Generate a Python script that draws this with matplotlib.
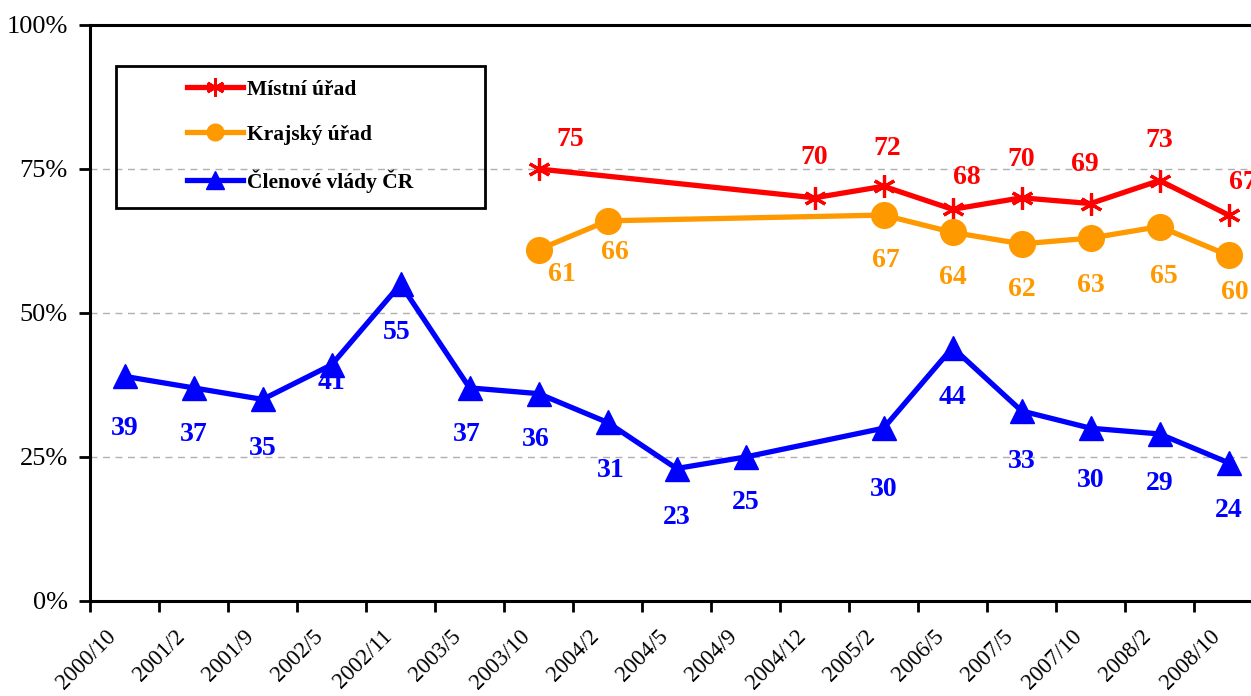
import numpy as np
import matplotlib
matplotlib.use("Agg")
import matplotlib.pyplot as plt
from matplotlib.lines import Line2D
from matplotlib.patches import Rectangle
from matplotlib.transforms import ScaledTranslation

# ============================================================
# DATA
# ============================================================

periods = ['2000/10', '2001/2', '2001/9', '2002/5', '2002/11', '2003/5',
           '2003/10', '2004/2', '2004/5', '2004/9', '2004/12', '2005/2',
           '2006/5', '2007/5', '2007/10', '2008/2', '2008/10']

nan = np.nan
mistni = [nan, nan, nan, nan, nan, nan, 75, nan, nan, nan, 70, 72, 68, 70, 69, 73, 67]
krajsky = [nan, nan, nan, nan, nan, nan, 61, 66, nan, nan, nan, 67, 64, 62, 63, 65, 60]
vlada = [39, 37, 35, 41, 55, 37, 36, 31, 23, 25, nan, 30, 44, 33, 30, 29, 24]

series_names = ['Místní úřad', 'Krajský úřad', 'Členové vlády ČR']

# label offsets in pixels (dx, dy), one per category
off_mistni = {6: (32, 29), 10: (0, 40), 11: (4, 38), 12: (14, 32), 13: (0, 38),
              14: (-6, 39), 15: (0, 40), 16: (14, 33)}
off_krajsky = {6: (23, -25), 7: (7, -32), 11: (2, -45), 12: (0, -45), 13: (0, -46),
               14: (0, -47), 15: (4, -50), 16: (6, -37)}
off_vlada = {0: (0, -52), 1: (0, -47), 2: (0, -49), 3: (0, -18), 4: (-4, -48),
             5: (-3, -47), 6: (-3, -46), 7: (3, -48), 8: (0, -49), 9: (0, -46),
             11: (0, -61), 12: (0, -50), 13: (0, -51), 14: (0, -52), 15: (0, -50),
             16: (0, -48)}

RED = '#FF0000'
ORANGE = '#FF9900'
BLUE = '#0000FF'
SERIF = ['Liberation Serif', 'DejaVu Serif']

# ============================================================
# PLOT
# ============================================================

fig = plt.figure(figsize=(12.51, 6.96), dpi=100)
ax = fig.add_axes([0.072, 0.1365, 0.9376, 0.8276])

x = np.arange(len(periods))

def draw_series(values, color, marker, ms, mew, offsets):
    v = np.array(values, dtype=float)
    ok = ~np.isnan(v)
    ax.plot(x[ok], v[ok], color=color, lw=3.8, marker=marker, ms=ms,
            mew=mew, mec=color, mfc=color, zorder=3, clip_on=False)
    for i in np.where(ok)[0]:
        dx, dy = offsets.get(i, (0, 0))
        ax.annotate(f'{int(v[i])}', (x[i], v[i]), xytext=(dx, dy),
                    textcoords='offset pixels', ha='center', va='center',
                    color=color, fontsize=20, fontweight='bold', family=SERIF,
                    zorder=4, annotation_clip=False)

draw_series(mistni, RED, (6, 2, 0), 16, 2.3, off_mistni)
draw_series(krajsky, ORANGE, 'o', 18.5, 1, off_krajsky)
draw_series(vlada, BLUE, '^', 17, 1, off_vlada)

ax.set_xlim(-0.5, len(periods) - 0.5)
ax.set_ylim(0, 100)

ax.set_yticks([0, 25, 50, 75, 100])
ax.set_yticklabels(['0%', '25%', '50%', '75%', '100%'], family=SERIF, fontsize=19)
for yv in [25, 50, 75]:
    ax.axhline(yv, color='#b0b0b0', lw=1, ls=(0, (5, 4)), zorder=1)

ax.set_xticks(x)
ax.set_xticklabels(periods, rotation=45, ha='right', rotation_mode='anchor',
                   family=SERIF, fontsize=16.5)
ax.set_xticks(np.arange(-0.5, len(periods)), minor=True)
ax.tick_params(axis='x', which='major', length=0, pad=18)
ax.tick_params(axis='x', which='minor', length=8, width=2, direction='out')
ax.tick_params(axis='y', length=8, width=2, direction='out', pad=8)
shift = ScaledTranslation(-0.19, 0, fig.dpi_scale_trans)
for lab in ax.get_xticklabels():
    lab.set_transform(lab.get_transform() + shift)

for side in ['left', 'bottom', 'top']:
    ax.spines[side].set_linewidth(2.2)
ax.spines['right'].set_visible(False)

# legend: frame drawn separately, entries placed inside
ax.add_patch(Rectangle((0.022, 0.682), 0.315, 0.247, transform=ax.transAxes,
                       fill=False, ec='black', lw=2, zorder=5))
handles = [
    Line2D([0], [0], color=RED, lw=3.8, marker=(6, 2, 0), ms=13, mew=2, mec=RED),
    Line2D([0], [0], color=ORANGE, lw=3.8, marker='o', ms=12, mec=ORANGE),
    Line2D([0], [0], color=BLUE, lw=3.8, marker='^', ms=13, mec=BLUE),
]
leg = ax.legend(handles, series_names, loc='upper left',
                bbox_to_anchor=(0.083, 0.905), frameon=False, borderpad=0,
                borderaxespad=0, handlelength=2.6, handletextpad=0.15,
                labelspacing=1.15, prop={'family': SERIF, 'weight': 'bold', 'size': 15.5})

fig.savefig('out.png', dpi=100)
